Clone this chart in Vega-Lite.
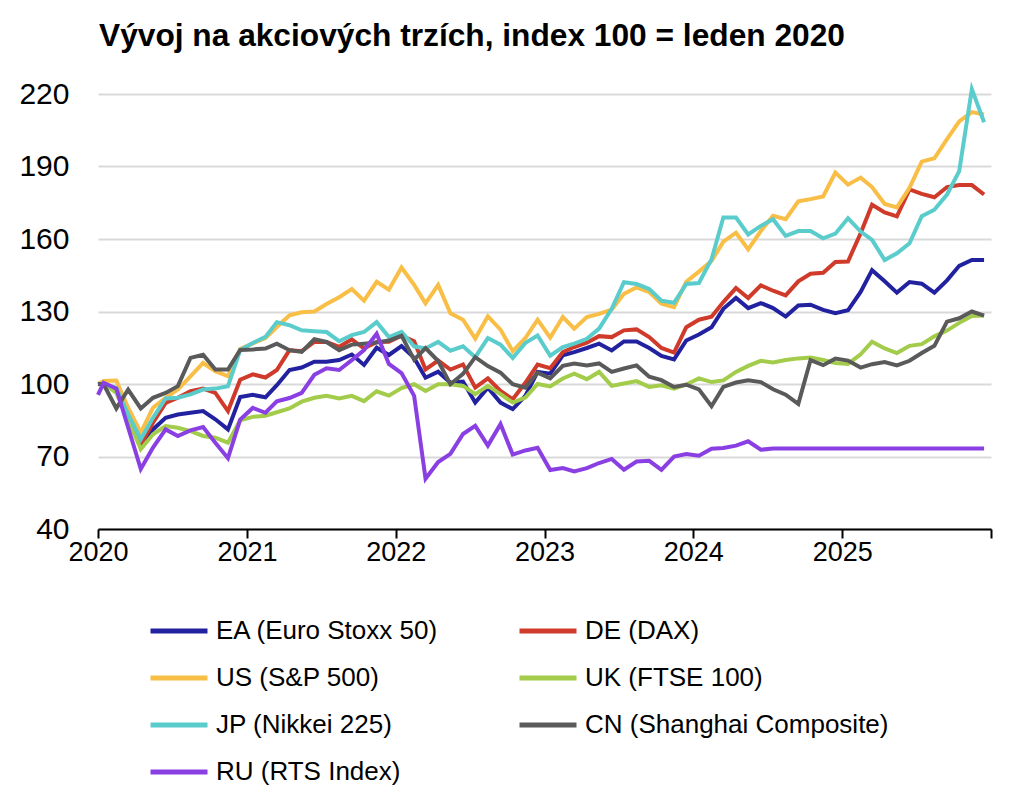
{
  "$schema": "https://vega.github.io/schema/vega-lite/v6.json",
  "width": 893,
  "height": 435,
  "autosize": {"type": "none"},
  "padding": {"left": 98, "top": 94, "right": 33, "bottom": 272},
  "background": "white",
  "config": {"view": {"stroke": null}, "font": "Liberation Sans"},
  "title": {"text": "Vývoj na akciových trzích, index 100 = leden 2020", "anchor": "start", "frame": "group", "fontSize": 31.7, "fontWeight": "bold", "font": "Liberation Sans", "color": "black", "offset": 26, "dx": 1},
  "data": {"values": [
    {"date":"2020-01-01","EA":100,"DE":100,"US":100,"UK":100,"JP":100,"CN":100,"RU":95.5},
    {"date":"2020-01-15","EA":100.2,"DE":100.2,"US":101.2,"UK":100.2,"JP":99.8,"CN":99.8,"RU":100.5},
    {"date":"2020-02-15","EA":97,"DE":97.7,"US":101.4,"UK":96.3,"JP":98.4,"CN":89.9,"RU":98.1},
    {"date":"2020-03-15","EA":86,"DE":87.4,"US":90.2,"UK":85.4,"JP":87.4,"CN":97.7,"RU":82},
    {"date":"2020-04-15","EA":74.8,"DE":75,"US":79.9,"UK":73,"JP":77.1,"CN":89.9,"RU":64.8},
    {"date":"2020-05-15","EA":81.2,"DE":84,"US":90.2,"UK":79.2,"JP":86,"CN":94.3,"RU":73.7},
    {"date":"2020-06-15","EA":86,"DE":92.2,"US":94.3,"UK":82.6,"JP":94,"CN":96.3,"RU":81.2},
    {"date":"2020-07-15","EA":87.4,"DE":94.3,"US":97.7,"UK":81.9,"JP":94.3,"CN":99.1,"RU":78.5},
    {"date":"2020-08-15","EA":88.1,"DE":97,"US":103.2,"UK":80.5,"JP":95.7,"CN":110.8,"RU":80.8},
    {"date":"2020-09-15","EA":88.8,"DE":98.1,"US":108.7,"UK":78.5,"JP":97.7,"CN":112.1,"RU":82.2},
    {"date":"2020-10-15","EA":85.4,"DE":96.3,"US":105.3,"UK":77.8,"JP":98.1,"CN":106,"RU":75.7},
    {"date":"2020-11-15","EA":81.2,"DE":88.8,"US":103.2,"UK":75.7,"JP":99.1,"CN":106,"RU":69.3},
    {"date":"2020-12-15","EA":94.6,"DE":101.8,"US":114.5,"UK":85,"JP":114,"CN":114.1,"RU":85.3},
    {"date":"2021-01-15","EA":95.5,"DE":104,"US":116.8,"UK":86.4,"JP":117,"CN":114.3,"RU":90.1},
    {"date":"2021-02-15","EA":94.5,"DE":102.7,"US":119,"UK":86.9,"JP":119.5,"CN":114.7,"RU":88.1},
    {"date":"2021-03-15","EA":99.5,"DE":105.8,"US":123.6,"UK":88.3,"JP":125.6,"CN":116.7,"RU":92.8},
    {"date":"2021-04-15","EA":105.8,"DE":114,"US":128.4,"UK":89.9,"JP":124.3,"CN":114,"RU":94.2},
    {"date":"2021-05-15","EA":106.8,"DE":113.6,"US":129.7,"UK":92.7,"JP":122.2,"CN":113.3,"RU":96.3},
    {"date":"2021-06-15","EA":109.2,"DE":117.4,"US":130,"UK":94.3,"JP":121.8,"CN":118.5,"RU":103.8},
    {"date":"2021-07-15","EA":109.2,"DE":117.4,"US":133.1,"UK":95.1,"JP":121.5,"CN":117.4,"RU":106.5},
    {"date":"2021-08-15","EA":109.9,"DE":115.4,"US":135.9,"UK":94,"JP":117.7,"CN":114,"RU":105.8},
    {"date":"2021-09-15","EA":112.2,"DE":118.5,"US":139.3,"UK":95.1,"JP":120.2,"CN":116.3,"RU":109.9},
    {"date":"2021-10-15","EA":107.9,"DE":114.7,"US":134.5,"UK":92.9,"JP":121.5,"CN":116.7,"RU":114},
    {"date":"2021-11-15","EA":115,"DE":117.4,"US":142.3,"UK":97,"JP":125.6,"CN":117.2,"RU":120.8},
    {"date":"2021-12-15","EA":112,"DE":117.5,"US":139,"UK":95.2,"JP":119.4,"CN":118,"RU":108.3},
    {"date":"2022-01-15","EA":115.7,"DE":120,"US":148.2,"UK":98.3,"JP":121.6,"CN":120,"RU":104.5},
    {"date":"2022-02-15","EA":110.8,"DE":117.7,"US":141,"UK":99.9,"JP":115.6,"CN":110.1,"RU":95.1},
    {"date":"2022-03-15","EA":102.6,"DE":106,"US":133.4,"UK":97.1,"JP":114.7,"CN":114.9,"RU":60.8},
    {"date":"2022-04-15","EA":105.1,"DE":109.7,"US":141,"UK":99.9,"JP":117.4,"CN":109.5,"RU":67.7},
    {"date":"2022-05-15","EA":100.5,"DE":106,"US":129.3,"UK":99.9,"JP":113.8,"CN":99.9,"RU":71.1},
    {"date":"2022-06-15","EA":101,"DE":108.1,"US":126.6,"UK":99.2,"JP":115.6,"CN":104.2,"RU":79.3},
    {"date":"2022-07-15","EA":92.3,"DE":98.5,"US":118.8,"UK":95.8,"JP":111.1,"CN":111.1,"RU":82.7},
    {"date":"2022-08-15","EA":98.5,"DE":102.3,"US":128,"UK":99.2,"JP":119,"CN":107.4,"RU":74.5},
    {"date":"2022-09-15","EA":92.3,"DE":97.1,"US":122.5,"UK":95.8,"JP":116.3,"CN":104.7,"RU":83.4},
    {"date":"2022-10-15","EA":89.6,"DE":93.7,"US":113.6,"UK":92.3,"JP":110.8,"CN":99.9,"RU":70.8},
    {"date":"2022-11-15","EA":95.1,"DE":100.5,"US":119,"UK":94.4,"JP":117,"CN":98.5,"RU":72.5},
    {"date":"2022-12-15","EA":105,"DE":108,"US":126.6,"UK":100,"JP":120.1,"CN":104.7,"RU":73.6},
    {"date":"2023-01-15","EA":104.3,"DE":106.5,"US":119.2,"UK":99,"JP":111.7,"CN":102.3,"RU":64.4},
    {"date":"2023-02-15","EA":111.9,"DE":113.2,"US":127.7,"UK":102.3,"JP":115.3,"CN":107.5,"RU":65.2},
    {"date":"2023-03-15","EA":113.2,"DE":115.3,"US":122.9,"UK":104.3,"JP":116.7,"CN":108.5,"RU":63.8},
    {"date":"2023-04-15","EA":114.9,"DE":117.1,"US":127.7,"UK":102,"JP":118.7,"CN":107.7,"RU":65.2},
    {"date":"2023-05-15","EA":116.7,"DE":119.8,"US":129,"UK":105,"JP":122.9,"CN":108.5,"RU":67.3},
    {"date":"2023-06-15","EA":113.9,"DE":119.4,"US":130.8,"UK":99.2,"JP":131.1,"CN":105,"RU":69},
    {"date":"2023-07-15","EA":117.6,"DE":122.2,"US":137.3,"UK":100.2,"JP":142.1,"CN":106.4,"RU":64.5},
    {"date":"2023-08-15","EA":117.6,"DE":122.6,"US":140,"UK":101.2,"JP":141.4,"CN":107.7,"RU":67.9},
    {"date":"2023-09-15","EA":114.9,"DE":119.4,"US":138,"UK":98.8,"JP":139.3,"CN":103,"RU":68.2},
    {"date":"2023-10-15","EA":111.6,"DE":114.9,"US":133.2,"UK":99.5,"JP":134.5,"CN":101.6,"RU":64.5},
    {"date":"2023-11-15","EA":110.2,"DE":113,"US":131.8,"UK":98.1,"JP":133.6,"CN":98.8,"RU":70},
    {"date":"2023-12-15","EA":118,"DE":123.5,"US":142.3,"UK":99.8,"JP":141.4,"CN":99.7,"RU":71},
    {"date":"2024-01-15","EA":120.5,"DE":126.6,"US":146.5,"UK":102.3,"JP":141.8,"CN":97.8,"RU":70.3},
    {"date":"2024-02-15","EA":123.5,"DE":127.8,"US":150.9,"UK":100.8,"JP":151.6,"CN":90.8,"RU":73.2},
    {"date":"2024-03-15","EA":131.1,"DE":133.9,"US":158.9,"UK":101.5,"JP":168.9,"CN":98.8,"RU":73.5},
    {"date":"2024-04-15","EA":135.6,"DE":139.7,"US":162.6,"UK":105,"JP":168.9,"CN":100.6,"RU":74.5},
    {"date":"2024-05-15","EA":131.4,"DE":135.6,"US":155.7,"UK":107.5,"JP":161.9,"CN":101.5,"RU":76.3},
    {"date":"2024-06-15","EA":133.5,"DE":140.8,"US":163.3,"UK":109.6,"JP":165.4,"CN":100.8,"RU":72.8},
    {"date":"2024-07-15","EA":131.4,"DE":138.6,"US":169.6,"UK":108.9,"JP":168.2,"CN":97.8,"RU":73.3},
    {"date":"2024-08-15","EA":127.9,"DE":136.7,"US":168.2,"UK":109.9,"JP":161.3,"CN":95.6,"RU":73.3},
    {"date":"2024-09-15","EA":132.5,"DE":142.5,"US":175.6,"UK":110.6,"JP":163.3,"CN":91.8,"RU":73.3},
    {"date":"2024-10-15","EA":132.8,"DE":145.6,"US":176.5,"UK":111,"JP":163.3,"CN":109.9,"RU":73.3},
    {"date":"2024-11-15","EA":130.7,"DE":146,"US":177.6,"UK":109.9,"JP":160.3,"CN":107.8,"RU":73.3},
    {"date":"2024-12-15","EA":129.3,"DE":150.5,"US":187.5,"UK":108.7,"JP":162.2,"CN":110.5,"RU":73.3},
    {"date":"2025-01-15","EA":130.5,"DE":150.7,"US":182.5,"UK":108.3,"JP":168.6,"CN":109.7,"RU":73.3},
    {"date":"2025-02-15","EA":138.1,"DE":162.4,"US":185.4,"UK":112.3,"JP":163.1,"CN":106.8,"RU":73.3},
    {"date":"2025-03-15","EA":147.1,"DE":174.2,"US":181.5,"UK":117.5,"JP":159.6,"CN":108.2,"RU":73.3},
    {"date":"2025-04-15","EA":142.5,"DE":171,"US":174.5,"UK":114.7,"JP":151.3,"CN":109.1,"RU":73.3},
    {"date":"2025-05-15","EA":137.8,"DE":169.4,"US":173.1,"UK":112.8,"JP":154.1,"CN":107.7,"RU":73.3},
    {"date":"2025-06-15","EA":142.2,"DE":180.5,"US":181.2,"UK":115.8,"JP":158.2,"CN":109.6,"RU":73.3},
    {"date":"2025-07-15","EA":141.5,"DE":178.7,"US":192,"UK":116.5,"JP":169.4,"CN":112.8,"RU":73.3},
    {"date":"2025-08-15","EA":137.8,"DE":177.3,"US":193.4,"UK":119.7,"JP":172.1,"CN":115.8,"RU":73.3},
    {"date":"2025-09-15","EA":142.9,"DE":181.5,"US":201.3,"UK":122.1,"JP":178.4,"CN":125.8,"RU":73.3},
    {"date":"2025-10-15","EA":148.9,"DE":182.3,"US":208.7,"UK":125.3,"JP":188.1,"CN":127.2,"RU":73.3},
    {"date":"2025-11-15","EA":151.3,"DE":182.3,"US":212.5,"UK":128.1,"JP":222,"CN":130,"RU":73.3},
    {"date":"2025-12-15","EA":151.3,"DE":178.4,"US":211.5,"UK":128.3,"JP":208.3,"CN":128.3,"RU":73.3}
  ]},
  "transform": [{"fold": ["EA", "DE", "US", "UK", "JP", "CN", "RU"], "as": ["series", "value"]}],
  "mark": {"type": "line", "strokeWidth": 4, "clip": false},
  "encoding": {
    "x": {
      "field": "date", "type": "temporal",
      "scale": {"type": "utc", "domain": [{"year": 2020, "month": 1, "date": 1, "utc": true}, {"year": 2026, "month": 1, "date": 1, "utc": true}]},
      "axis": {
        "title": null, "grid": false,
        "values": [
          {"year": 2020, "month": 1, "date": 1, "utc": true},
          {"year": 2021, "month": 1, "date": 1, "utc": true},
          {"year": 2022, "month": 1, "date": 1, "utc": true},
          {"year": 2023, "month": 1, "date": 1, "utc": true},
          {"year": 2024, "month": 1, "date": 1, "utc": true},
          {"year": 2025, "month": 1, "date": 1, "utc": true},
          {"year": 2026, "month": 1, "date": 1, "utc": true}
        ],
        "labelExpr": "utcyear(datum.value) >= 2026 ? '' : utcFormat(datum.value, '%Y')",
        "labelFontSize": 27, "labelColor": "black", "labelFont": "Liberation Sans",
        "labelPadding": 1, "labelFlush": false, "labelAlign": "center",
        "domainColor": "black", "domainWidth": 2,
        "tickColor": "black", "tickWidth": 2, "tickSize": 9
      }
    },
    "y": {
      "field": "value", "type": "quantitative",
      "scale": {"domain": [40, 220], "nice": false, "zero": false},
      "axis": {
        "title": null, "values": [40, 70, 100, 130, 160, 190, 220],
        "domain": false, "ticks": false, "labelPadding": 29,
        "labelFontSize": 30, "labelColor": "black", "labelFont": "Liberation Sans",
        "gridColor": "#d9d9d9", "gridWidth": 2
      }
    },
    "color": {
      "field": "series", "type": "nominal",
      "scale": {
        "domain": ["EA", "DE", "US", "UK", "JP", "CN", "RU"],
        "range": ["#2222A0", "#CF3A2A", "#F8BE46", "#A2CC4A", "#5ACCCC", "#5A5A5A", "#8A3FE3"]
      },
      "legend": {
        "orient": "none", "legendX": 50, "legendY": 506,
        "columns": 2, "direction": "horizontal", "title": null,
        "symbolType": "stroke", "symbolSize": 3249, "symbolStrokeWidth": 5,
        "labelFontSize": 26, "labelColor": "black", "labelFont": "Liberation Sans",
        "labelOffset": 6, "labelLimit": 500, "columnPadding": 70, "rowPadding": 3,
        "labelExpr": "{'EA':'EA (Euro Stoxx 50)','DE':'DE (DAX)','US':'US (S&P 500)','UK':'UK (FTSE 100)','JP':'JP (Nikkei 225)','CN':'CN (Shanghai Composite)','RU':'RU (RTS Index)'}[datum.label]"
      }
    }
  }
}
